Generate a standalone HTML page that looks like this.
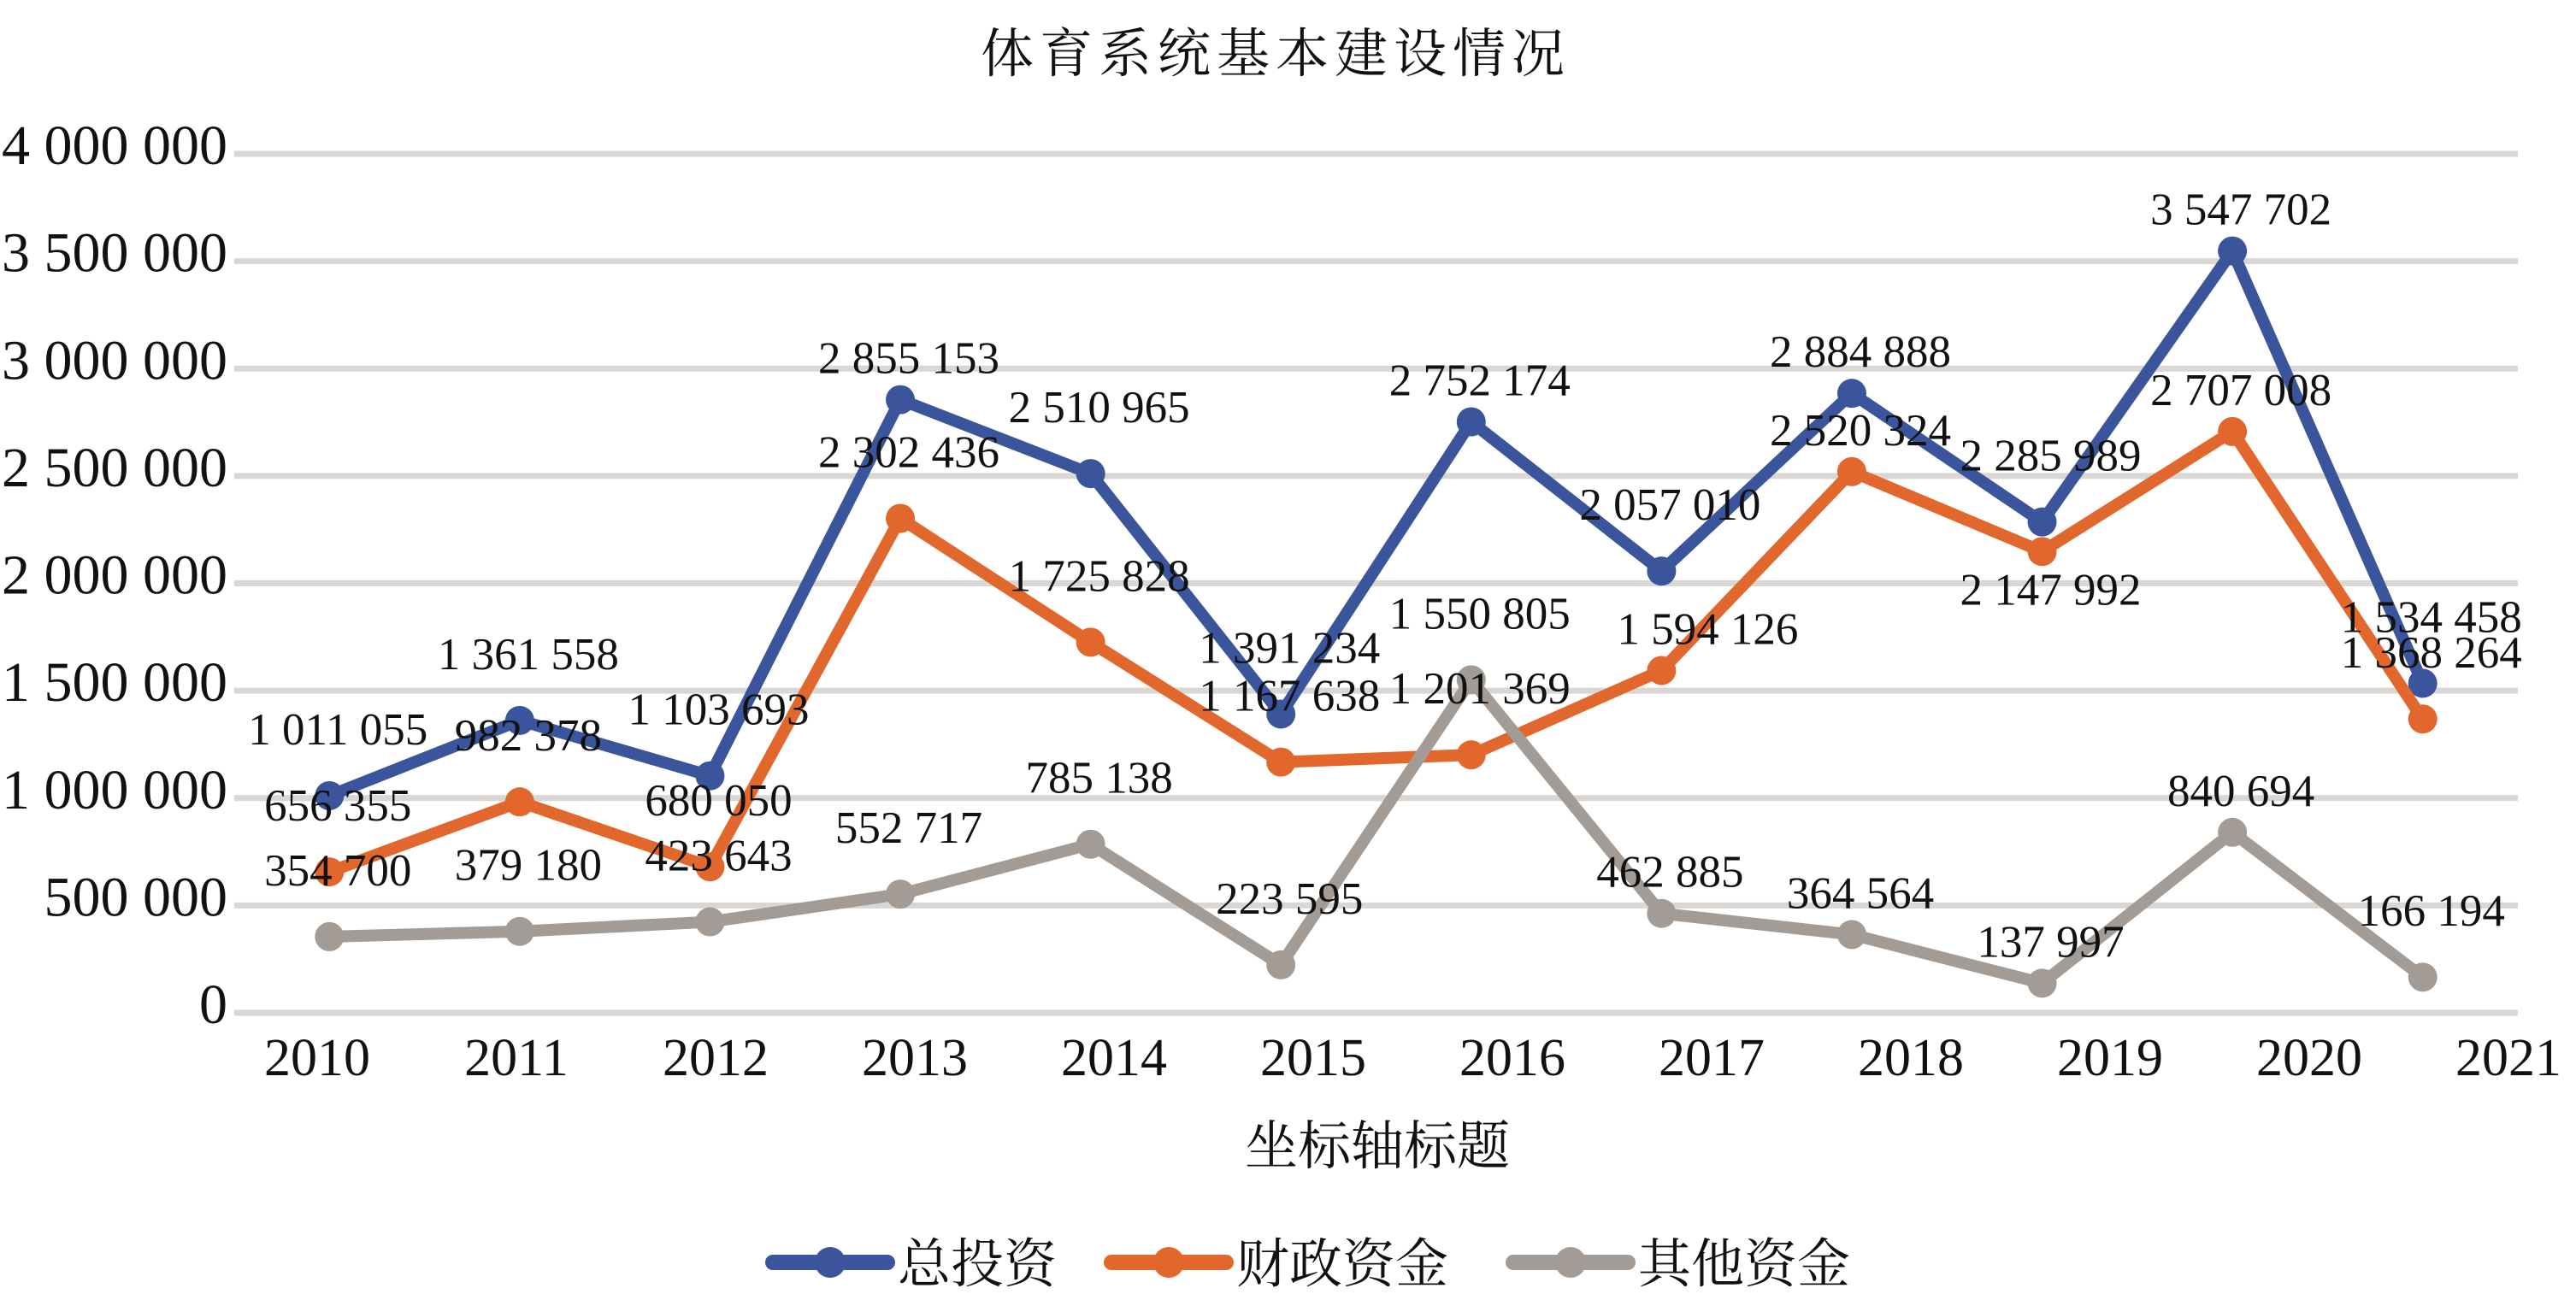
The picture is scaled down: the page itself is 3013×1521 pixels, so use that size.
<!DOCTYPE html>
<html><head><meta charset="utf-8">
<style>
html,body{margin:0;padding:0;background:#fff;}
svg{display:block;}
text{font-family:"Liberation Serif","Noto Serif CJK SC",serif;fill:#111;}
</style></head>
<body>
<svg id="chart" width="3013" height="1521" viewBox="0 0 3013 1521">
<text x="1492" y="84" font-size="62" text-anchor="middle" letter-spacing="7">体育系统基本建设情况</text>
<g id="grid"></g>
<g id="yticks"></g>
<g id="xticks"></g>
<g id="series"></g>
<g id="labels"></g>
<text x="1611" y="1362" font-size="62" text-anchor="middle">坐标轴标题</text>
<g id="legend"></g>
</svg>
<script>
const categories=["2010","2011","2012","2013","2014","2015","2016","2017","2018","2019","2020","2021"];
const totalInvest=[1011055,1361558,1103693,2855153,2510965,1391234,2752174,2057010,2884888,2285989,3547702,1534458];
const fiscalFunds=[656355,982378,680050,2302436,1725828,1167638,1201369,1594126,2520324,2147992,2707008,1368264];
const otherFunds=[354700,379180,423643,552717,785138,223595,1550805,462885,364564,137997,840694,166194];
const yTicks=[0,500000,1000000,1500000,2000000,2500000,3000000,3500000,4000000];
const seriesNames=["总投资","财政资金","其他资金"];
const seriesColors=["#3B559C","#E2672C","#A39C96"];
// label placement tweaks (style, not data): index -> [dx, dy]
const labelShift=[
  {3:[0,29],6:[0,29],8:[0,29],10:[0,29]},
  {7:[44,29],8:[0,29],9:[0,122],10:[0,29]},
  {7:[0,29],8:[0,29],9:[0,29],10:[0,29]}
];
const NS="http://www.w3.org/2000/svg";
const X0=274,X1=2945,Y0=1185,Y1=180,YMAX=4000000;
const step=(X1-X0)/categories.length;
function xs(i){return X0+step*(i+0.5);}
function ys(v){return Y0-(v/YMAX)*(Y0-Y1);}
function fmt(v){return String(v).replace(/\B(?=(\d{3})+(?!\d))/g," ");}
function mk(tag,attrs,parent){const e=document.createElementNS(NS,tag);for(const k in attrs)e.setAttribute(k,attrs[k]);parent.appendChild(e);return e;}
const grid=document.getElementById('grid'),yt=document.getElementById('yticks'),xt=document.getElementById('xticks');
yTicks.forEach(v=>{
  const l=mk('line',{x1:X0,x2:X1,y1:ys(v),y2:ys(v),stroke:'#D9D6D3','stroke-width':7},grid);
  
  
  const t=mk('text',{x:266,y:ys(v)+12,'font-size':66,'text-anchor':'end'},yt);
  t.textContent=fmt(v);
  
  
});
categories.forEach((c,i)=>{
  const t=mk('text',{x:371+233*i,y:1258,'font-size':62,'text-anchor':'middle'},xt);
  t.textContent=c;
  
  
});
const ser=document.getElementById('series'),lab=document.getElementById('labels');
[totalInvest,fiscalFunds,otherFunds].forEach((data,s)=>{
  const g=mk('g',{},ser);
  
  
  const p=mk('polyline',{points:data.map((v,i)=>xs(i)+','+ys(v)).join(' '),fill:'none',stroke:seriesColors[s],'stroke-width':14,'stroke-linejoin':'round'},g);
  
  
  data.forEach((v,i)=>{
    const c=mk('circle',{cx:xs(i),cy:ys(v),r:17,fill:seriesColors[s]},g);
    
    
  });
});
[totalInvest,fiscalFunds,otherFunds].forEach((data,s)=>{
  data.forEach((v,i)=>{
    const sh=labelShift[s][i]||[0,0];
    const t=mk('text',{x:xs(i)+10+sh[0],y:ys(v)-60+sh[1],'font-size':53,'text-anchor':'middle'},lab);
    t.textContent=fmt(v);
    
    
  });
});
const leg=document.getElementById('legend');
const legX=[904,1300,1770];
seriesNames.forEach((n,s)=>{
  const g=mk('g',{},leg);
  
  
  mk('line',{x1:legX[s],x2:legX[s]+134,y1:1477,y2:1477,stroke:seriesColors[s],'stroke-width':18,'stroke-linecap':'round'},g);
  mk('circle',{cx:legX[s]+67,cy:1477,r:18,fill:seriesColors[s]},g);
  const t=mk('text',{x:legX[s]+146,y:1500,'font-size':62},g);
  t.textContent=n;
});
</script>
</body></html>
